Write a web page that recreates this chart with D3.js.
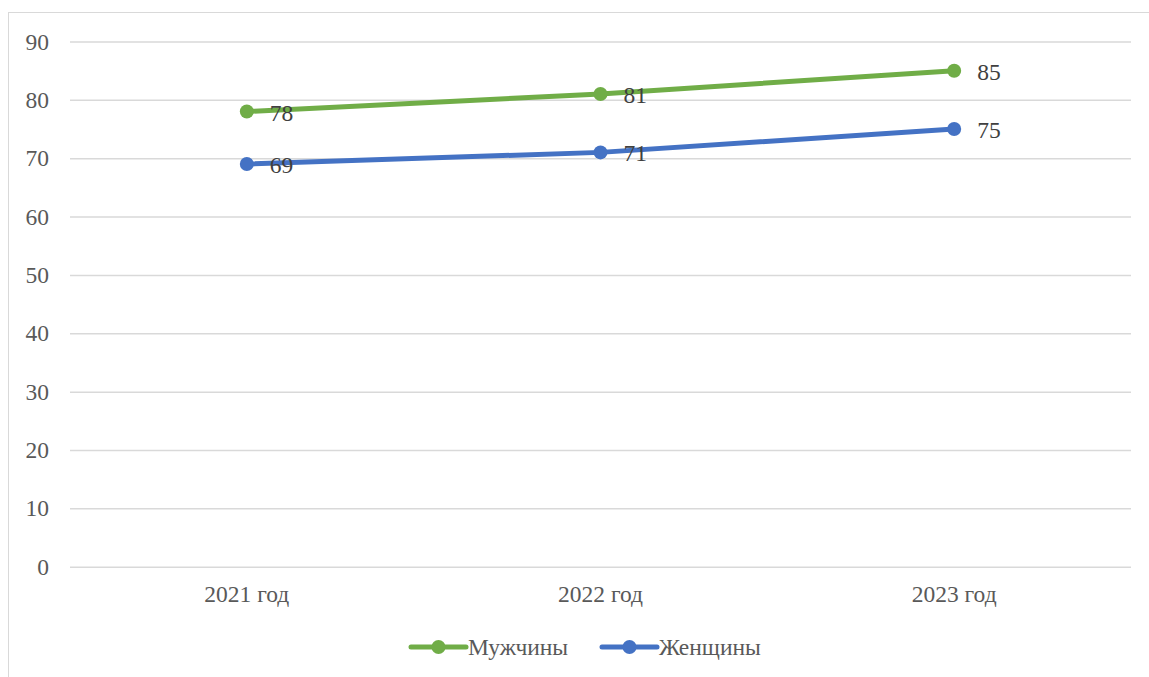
<!DOCTYPE html>
<html><head><meta charset="utf-8">
<script src="https://cdn.jsdelivr.net/npm/d3@7"></script>
<style>body{margin:0;background:#fff}</style>
</head><body>
<script>
const categories = ["2021 год", "2022 год", "2023 год"];
const men = [78, 81, 85];
const women = [69, 71, 75];
const yTicks = [0, 10, 20, 30, 40, 50, 60, 70, 80, 90];
const seriesNames = ["Мужчины", "Женщины"];
const colors = ["#70AD47", "#4472C4"];

const W = 1149, H = 677;
const svg = d3.select("body").append("svg").attr("width", W).attr("height", H);
const ff = '"Liberation Serif"';
const fs = "23.5px";
const txt = "#595959";

svg.append("rect").attr("x", 8.5).attr("y", 12.5).attr("width", 1160).attr("height", 700)
  .attr("fill", "#fff").attr("stroke", "#D9D9D9").attr("stroke-width", 1);

const x = d3.scaleBand().domain(categories).range([70, 1131]);
const y = d3.scaleLinear().domain([0, 90]).range([566.7, 41.5]);

const gy = svg.append("g").attr("transform", "translate(70,0)")
  .call(d3.axisLeft(y).tickValues(yTicks).tickSize(-1061).tickPadding(21));
gy.attr("font-family", null);
gy.select(".domain").remove();
gy.selectAll(".tick line").attr("stroke", "#D9D9D9").attr("stroke-width", 1.5);
gy.selectAll(".tick text").attr("fill", txt).style("font-family", ff).style("font-size", fs);

const gx = svg.append("g").attr("transform", "translate(0,566.7)")
  .call(d3.axisBottom(x).tickSize(0).tickPadding(19));
gx.attr("font-family", null);
gx.select(".domain").remove();
gx.selectAll(".tick text").attr("fill", txt).style("font-family", ff).style("font-size", fs);

const series = [men, women];
const cx = d => x(d) + x.bandwidth() / 2;
series.forEach((vals, i) => {
  const pts = vals.map((v, j) => [cx(categories[j]), y(v)]);
  svg.append("path").attr("d", d3.line()(pts)).attr("fill", "none")
    .attr("stroke", colors[i]).attr("stroke-width", 5).attr("stroke-linecap", "round");
  svg.selectAll(null).data(pts).enter().append("circle")
    .attr("cx", d => d[0]).attr("cy", d => d[1]).attr("r", 7).attr("fill", colors[i]);
  svg.selectAll(null).data(vals).enter().append("text")
    .attr("x", (v, j) => cx(categories[j]) + 23).attr("y", v => y(v) + 9)
    .attr("fill", "#404040").style("font-family", ff).style("font-size", fs).text(v => v);
});

// legend
const legend = [{x: 411, name: seriesNames[0], c: colors[0]}, {x: 602, name: seriesNames[1], c: colors[1]}];
legend.forEach(l => {
  const g = svg.append("g");
  g.append("line").attr("x1", l.x).attr("x2", l.x + 55).attr("y1", 647).attr("y2", 647)
    .attr("stroke", l.c).attr("stroke-width", 5).attr("stroke-linecap", "round");
  g.append("circle").attr("cx", l.x + 27.5).attr("cy", 647).attr("r", 7).attr("fill", l.c);
  g.append("text").attr("x", l.x + 57).attr("y", 655).attr("fill", txt)
    .style("font-family", ff).style("font-size", fs).text(l.name);
});
</script>
</body></html>
